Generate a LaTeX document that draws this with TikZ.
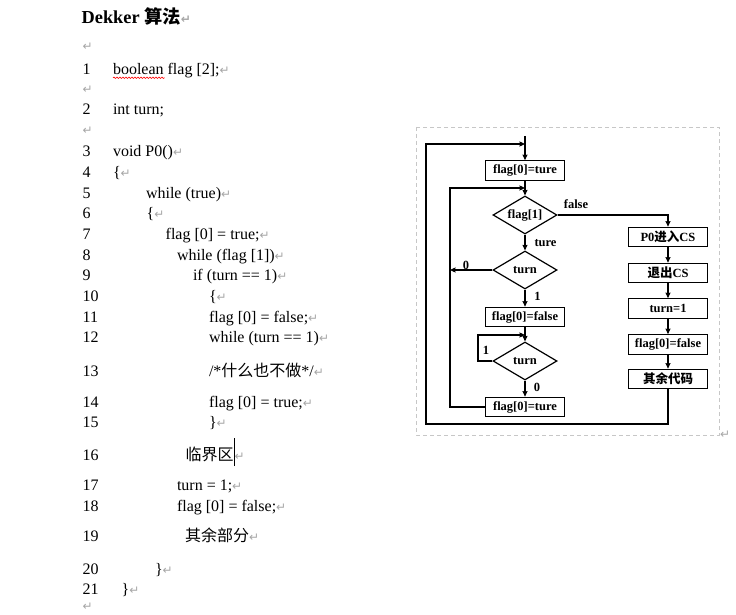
\documentclass[tikz,border=0pt]{standalone}
\usepackage{fontspec}
\setmainfont{Liberation Serif}
\newfontfamily\cjk{Noto Sans CJK SC}
\newfontfamily\symfont{DejaVu Sans}
\usetikzlibrary{shapes.geometric,arrows.meta,decorations.pathmorphing}
\colorlet{mark color}{black!35}
\colorlet{frame color}{black!22}
\newcommand\retmark{{\symfont\fontsize{12}{12}\selectfont\color{mark color}↵}}
\newcommand\zh[1]{{\cjk #1}}
\tikzset{
    x={1pt},
    y={-1pt},
    code line/.style={
        anchor=base west,
        inner sep=0pt,
        outer sep=0pt,
        font={\fontsize{16}{16}\selectfont},
    },
    title line/.style={
        code line,
        font={\fontsize{18.3}{18.3}\selectfont\bfseries},
    },
    flow box/.style={
        draw, rectangle,
        line width={1.2pt},
        minimum width={79},
        minimum height={19.5},
        inner sep=0pt,
        font={\fontsize{12.5}{12.5}\selectfont\bfseries},
    },
    flow decision/.style={
        draw, diamond, aspect=1.6,
        line width={1.2pt},
        minimum width={64},
        minimum height={38},
        inner sep=0pt,
        font={\fontsize{12.5}{12.5}\selectfont\bfseries},
    },
    flow/.style={
        draw,
        line width={1.1pt},
        -{Stealth[length=5.5pt,width=5pt,inset=0.5pt]},
    },
    flow label/.style={
        inner sep=0pt,
        font={\fontsize{12.5}{12.5}\selectfont\bfseries},
    },
    picture frame/.style={
        draw=frame color,
        dash pattern=on 4pt off 3pt,
        line width={0.8pt},
    },
}

\begin{document}
\begin{tikzpicture}
\useasboundingbox (0,0) rectangle (736,615);
% code listing
\node[title line] (title) at (81.7,23.3) {Dekker \zh{算法}\retmark};
\node[code line] (e1) at (82.7,51) {\retmark};
\node[code line] (n1) at (82.7,75) {1};
\node[code line] (t1) at (113,75) {boolean flag [2];\retmark};
\node[code line] (e2) at (82.7,94) {\retmark};
\node[code line] (n2) at (82.7,115) {2};
\node[code line] (t2) at (113,115) {int turn;};
\node[code line] (e3) at (82.7,135) {\retmark};
\node[code line] (n3) at (82.7,156.7) {3};
\node[code line] (t3) at (113,156.7) {void P0()\retmark};
\node[code line] (n4) at (82.7,177.3) {4};
\node[code line] (t4) at (113,177.3) {\{\retmark};
\node[code line] (n5) at (82.7,198) {5};
\node[code line] (t5) at (146,198) {while (true)\retmark};
\node[code line] (n6) at (82.7,218.7) {6};
\node[code line] (t6) at (146.7,218.7) {\{\retmark};
\node[code line] (n7) at (82.7,239.3) {7};
\node[code line] (t7) at (165.7,239.3) {flag [0] = true;\retmark};
\node[code line] (n8) at (82.7,260) {8};
\node[code line] (t8) at (177,260) {while (flag [1])\retmark};
\node[code line] (n9) at (82.7,280.7) {9};
\node[code line] (t9) at (193,280.7) {if (turn == 1)\retmark};
\node[code line] (n10) at (82.7,301.3) {10};
\node[code line] (t10) at (209,301.3) {\{\retmark};
\node[code line] (n11) at (82.7,322) {11};
\node[code line] (t11) at (209,322) {flag [0] = false;\retmark};
\node[code line] (n12) at (82.7,342.7) {12};
\node[code line] (t12) at (209,342.7) {while (turn == 1)\retmark};
\node[code line] (n13) at (82.7,376.7) {13};
\node[code line] (t13) at (209,376.7) {/*\zh{什么也不做}*/\retmark};
\node[code line] (n14) at (82.7,407.7) {14};
\node[code line] (t14) at (209,407.7) {flag [0] = true;\retmark};
\node[code line] (n15) at (82.7,427.7) {15};
\node[code line] (t15) at (209,427.7) {\}\retmark};
\node[code line] (n16) at (82.7,460.7) {16};
\node[code line] (t16) at (185.7,460.7) {\zh{临界区}\rule[-5.3pt]{0.8pt}{28pt}\retmark};
\node[code line] (n17) at (82.7,490) {17};
\node[code line] (t17) at (177,490) {turn = 1;\retmark};
\node[code line] (n18) at (82.7,511) {18};
\node[code line] (t18) at (177,511) {flag [0] = false;\retmark};
\node[code line] (n19) at (82.7,541.7) {19};
\node[code line] (t19) at (185,541.7) {\zh{其余部分}\retmark};
\node[code line] (n20) at (82.7,574) {20};
\node[code line] (t20) at (155,574) {\}\retmark};
\node[code line] (n21) at (82.7,594.3) {21};
\node[code line] (t21) at (121.7,594.3) {\}\retmark};
\node[code line] (e4) at (82.7,610) {\retmark};
% spelling mark
\draw[red, line width={0.6pt}, decorate, decoration={snake, amplitude=0.7pt, segment length=3pt}] (113,77.8) -- (164.5,77.8);
% picture frame
\draw[picture frame] (416,127) rectangle (719,435);
\node[code line] (e5) at (720,438) {\retmark};
% flow chart
\node[flow box] (setA) at (525,170.5) {flag[0]=ture};
\node[flow decision] (askA) at (525,215) {flag[1]};
\node[flow decision] (askB) at (525,270) {turn};
\node[flow box] (clear) at (525,317) {flag[0]=false};
\node[flow decision] (askC) at (525,361) {turn};
\node[flow box] (setB) at (525,407) {flag[0]=ture};
\node[flow box] (enter) at (668,237) {P0\zh{进入}CS};
\node[flow box] (leave) at (668,273) {\zh{退出}CS};
\node[flow box] (give) at (668,308.5) {turn=1};
\node[flow box] (reset) at (668,344.5) {flag[0]=false};
\node[flow box] (rest) at (668,379) {\zh{其余代码}};
% labels
\node[flow label] (lfalse) at (576,204) {false};
\node[flow label] (lture) at (545.5,243) {ture};
\node[flow label] (lzeroA) at (466,265) {0};
\node[flow label] (loneA) at (537.5,296) {1};
\node[flow label] (loneB) at (486,350) {1};
\node[flow label] (lzeroB) at (537,387) {0};
% loop points
\coordinate (start) at (525,136);
\coordinate (joinA) at (525,144);
\coordinate (cornerA) at (426,424);
\coordinate (joinB) at (525,188);
\coordinate (cornerB) at (450,407);
\coordinate (joinC) at (450,270);
\coordinate (joinD) at (525,335);
\coordinate (cornerD) at (478,361);
% connectors
\draw[flow] (start) -- (setA);
\draw[flow] (rest.south) |- (cornerA) |- (joinA);
\draw[flow] (setA) -- (askA);
\draw[flow] (setB.west) -- (cornerB) |- (joinB);
\draw[flow] (askA.east) -| (enter.north);
\draw[flow] (askA) -- (askB);
\draw[flow] (askB.west) -- (joinC);
\draw[flow] (askB) -- (clear);
\draw[flow] (clear) -- (askC);
\draw[flow] (askC.west) -- (cornerD) |- (joinD);
\draw[flow] (askC) -- (setB);
\draw[flow] (enter) -- (leave);
\draw[flow] (leave) -- (give);
\draw[flow] (give) -- (reset);
\draw[flow] (reset) -- (rest);
\end{tikzpicture}
\end{document}
